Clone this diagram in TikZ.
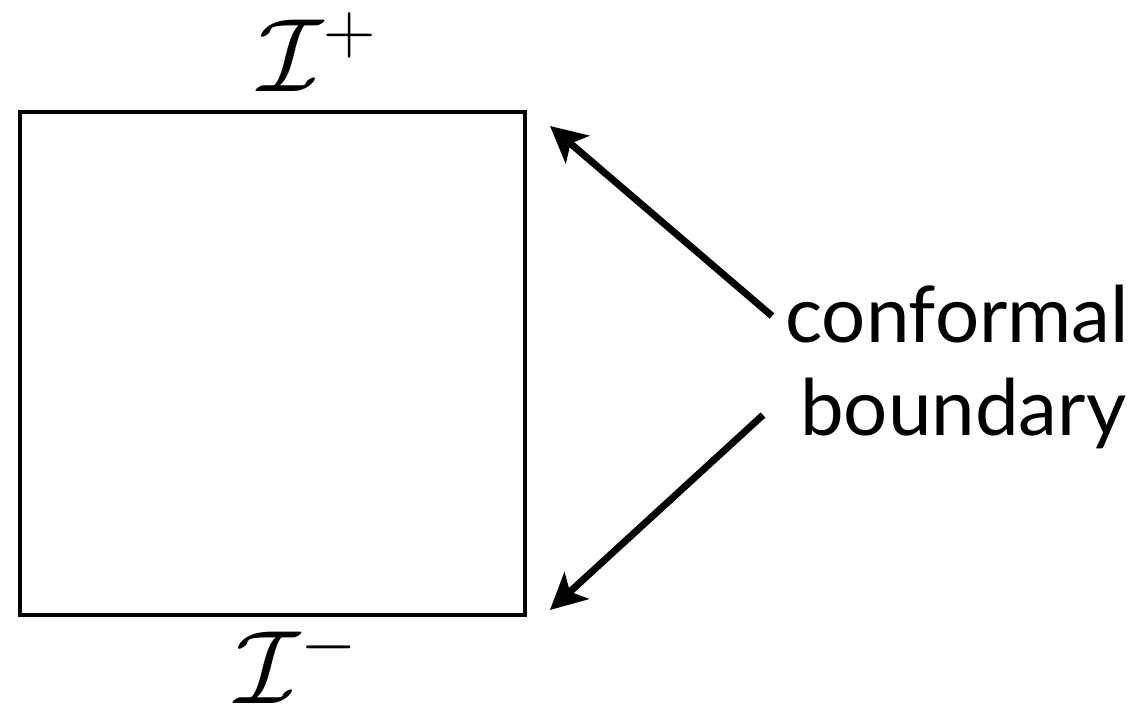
\documentclass[tikz,border=0pt]{standalone}
\usepackage{graphicx}
\usepackage{fontspec}
\newfontfamily\labelfont{Lato}
\usetikzlibrary{arrows.meta}
\newcommand{\bigscri}[1]{\scalebox{4.2}{\fontsize{25}{30}\selectfont$\mathcal{I}^{#1}$}}
\begin{document}
\begin{tikzpicture}[x=1pt,y=-1pt,
  box/.style={draw,line width=4pt,minimum width=505pt,minimum height=503pt,inner sep=0pt},
  scri/.style={inner sep=0pt,anchor=base},
  word/.style={inner sep=0pt,anchor=base west,font=\labelfont\fontsize{78}{93}\selectfont},
  pointer/.style={line width=7pt,-{Stealth[length=36pt,width=36pt,inset=9pt]}}]
\useasboundingbox (0,0) rectangle (1138,707);
\node[box] (sq) at (272.5,363.5) {};
\node[scri] (top) at (318,91) {\bigscri{+}};
\node[scri] (bot) at (297,703) {\bigscri{-}};
\node[word] (w1) at (785,342) {conformal};
\node[word] (w2) at (800,435) {boundary};
\coordinate (a1) at (772,316);
\coordinate (t1) at (550,126);
\coordinate (a2) at (763,415);
\coordinate (t2) at (550,610);
\draw[pointer] (a1) -- (t1);
\draw[pointer] (a2) -- (t2);
\end{tikzpicture}
\end{document}
